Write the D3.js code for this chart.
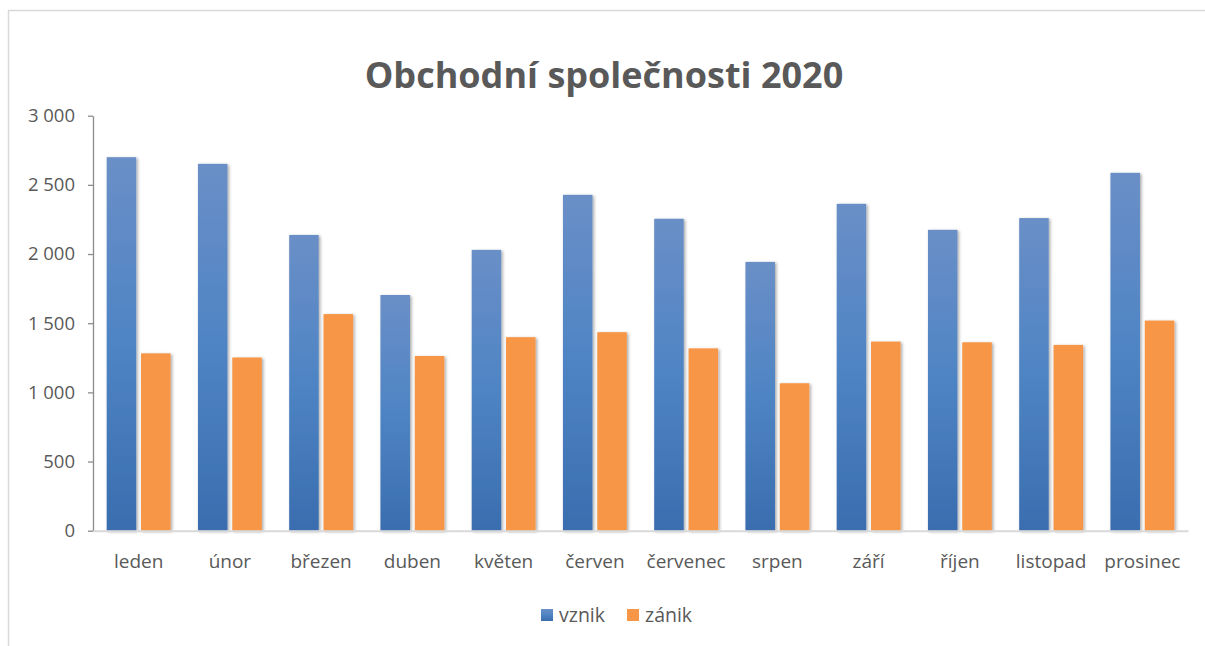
<!DOCTYPE html>
<html>
<head>
<meta charset="utf-8">
<script src="https://cdn.jsdelivr.net/npm/d3@7"></script>
<style>
  body { margin: 0; background: #fff; }
  text { font-family: 'Open Sans', 'Noto Sans', sans-serif; fill: #595959; }
</style>
</head>
<body>
<div class="canvas"></div>
<script>
// data
const months = ['leden', 'únor', 'březen', 'duben', 'květen', 'červen', 'červenec', 'srpen', 'září', 'říjen', 'listopad', 'prosinec']
const series = ['vznik', 'zánik']
const vznik = [2700, 2652, 2138, 1704, 2030, 2428, 2255, 1943, 2363, 2175, 2260, 2587]
const zanik = [1282, 1252, 1566, 1263, 1399, 1435, 1318, 1066, 1367, 1362, 1343, 1519]
const yTicks = [0, 500, 1000, 1500, 2000, 2500, 3000]
const title = 'Obchodní společnosti 2020'

const dims = { width: 1205, height: 646 }
const plot = { left: 93, right: 1188, top: 115.7, bottom: 530.7 }

const svg = d3
  .select('.canvas')
  .append('svg')
  .attr('width', dims.width)
  .attr('height', dims.height)

const defs = svg.append('defs')

//? blue bar gradient (lighter at the top)
const grad = defs.append('linearGradient')
  .attr('id', 'blueGrad')
  .attr('x1', 0).attr('y1', 0).attr('x2', 0).attr('y2', 1)
grad.append('stop').attr('offset', '0%').attr('stop-color', '#6a8fc7')
grad.append('stop').attr('offset', '50%').attr('stop-color', '#4e84c4')
grad.append('stop').attr('offset', '100%').attr('stop-color', '#3a6daf')

//? soft shadow under the bars
defs.append('filter')
  .attr('id', 'shadow')
  .attr('x', '-30%').attr('y', '-10%').attr('width', '160%').attr('height', '120%')
  .append('feDropShadow')
  .attr('dx', 1.5).attr('dy', 1)
  .attr('stdDeviation', 1.8)
  .attr('flood-color', '#000')
  .attr('flood-opacity', 0.35)

// chart frame
svg.append('rect')
  .attr('x', 8.5).attr('y', 10.5)
  .attr('width', 1210).attr('height', 650)
  .attr('fill', 'none')
  .attr('stroke', '#d9d9d9')
  .attr('stroke-width', 1.5)

svg.append('text')
  .attr('x', 604)
  .attr('y', 88)
  .attr('text-anchor', 'middle')
  .attr('font-size', 36)
  .attr('font-weight', 'bold')
  .text(title)

//* SCALES
const x0 = d3.scaleBand()
  .domain(months)
  .range([plot.left, plot.right])
  .paddingInner(0.3)
  .paddingOuter(0.15)

const x1 = d3.scaleBand()
  .domain(series)
  .range([0, x0.bandwidth()])
  .paddingInner(0.14)

const y = d3.scaleLinear()
  .domain([0, 3000])
  .range([plot.bottom, plot.top])

const color = d3.scaleOrdinal().domain(series).range(['url(#blueGrad)', '#f79646'])

const fmt = v => d3.format(',')(v).replace(',', ' ')

//? y axis
const yAxis = svg.append('g')
  .attr('transform', `translate(${plot.left}, 0)`)
  .call(d3.axisLeft(y).tickValues(yTicks).tickSize(5).tickSizeOuter(0).tickPadding(13).tickFormat(fmt))
yAxis.select('.domain').attr('stroke', '#8c8c8c').attr('stroke-width', 1.3)
yAxis.selectAll('.tick line').attr('stroke', '#8c8c8c').attr('stroke-width', 1.3)
yAxis.selectAll('.tick text')
  .attr('font-size', 18.5)
  .attr('fill', '#595959')
  .style('font-family', "'Open Sans', sans-serif")

//? bars
const rows = months.map((m, i) => ({ month: m, values: [vznik[i], zanik[i]] }))

const groups = svg.append('g')
  .selectAll('g')
  .data(rows)
  .join('g')
  .attr('transform', d => `translate(${x0(d.month)}, 0)`)

groups.selectAll('rect')
  .data(d => series.map((s, k) => ({ key: s, value: d.values[k] })))
  .join('rect')
  .attr('x', d => x1(d.key))
  .attr('y', d => y(d.value))
  .attr('width', x1.bandwidth())
  .attr('height', d => y(0) - y(d.value))
  .attr('fill', d => color(d.key))
  .attr('filter', 'url(#shadow)')

//? x axis
const xAxis = svg.append('g')
  .attr('transform', `translate(0, ${plot.bottom})`)
  .call(d3.axisBottom(x0).tickSize(0).tickPadding(24))
xAxis.select('.domain').attr('stroke', '#d9d9d9').attr('stroke-width', 2)
xAxis.selectAll('.tick text')
  .attr('font-size', 19)
  .attr('fill', '#595959')
  .style('font-family', "'Open Sans', sans-serif")

//? legend
const legend = svg.append('g').attr('transform', 'translate(541, 608)')
const legendX = [0, 86]
const items = legend.selectAll('g')
  .data(series)
  .join('g')
  .attr('transform', (d, i) => `translate(${legendX[i]}, 0)`)
items.append('rect')
  .attr('width', 12).attr('height', 12)
  .attr('y', 1)
  .attr('fill', d => color(d))
items.append('text')
  .attr('x', 18)
  .attr('y', 14)
  .attr('font-size', 19.5)
  .text(d => d)
</script>
</body>
</html>
